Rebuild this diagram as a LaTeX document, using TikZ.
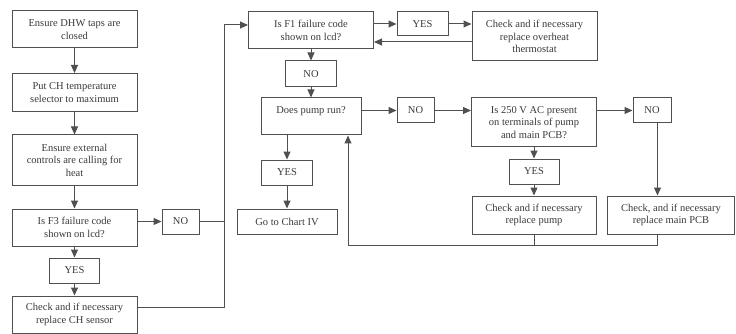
\documentclass[tikz,border=0pt]{standalone}
\usepackage{fontspec}
\setmainfont{Liberation Serif}
\usetikzlibrary{arrows.meta}
\definecolor{chartgray}{HTML}{505050}
\definecolor{charttext}{HTML}{3A3A3A}

\begin{document}
\begin{tikzpicture}[x=1pt, y=-1pt, line width=1pt,
    box/.style={draw=chartgray, fill=white, text=charttext, align=center, inner sep=1pt,
      font=\fontsize{10.5}{12.5}\selectfont},
    wire/.style={draw=chartgray},
    link/.style={draw=chartgray, -{Triangle[length=8pt, width=7pt]}}]
  \useasboundingbox (0,0) rectangle (736,334);
  % left column
  \node[box, minimum width=125pt, minimum height=37pt] (dhw) at (74.5,29.5) {Ensure DHW taps are\\closed};
  \node[box, minimum width=125pt, minimum height=38pt] (put) at (74.5,92.5) {Put CH temperature\\selector to maximum};
  \node[box, minimum width=125pt, minimum height=50pt] (ext) at (74.5,160) {Ensure external\\controls are calling for\\heat};
  \node[box, minimum width=125pt, minimum height=37pt] (f3) at (74.5,227.5) {Is F3 failure code\\shown on lcd?};
  \node[box, minimum width=50pt, minimum height=25pt] (yes3) at (74.5,270.5) {YES};
  \node[box, minimum width=125pt, minimum height=37pt] (chs) at (74.5,314.5) {Check and if necessary\\replace CH sensor};
  \node[box, minimum width=37pt, minimum height=25pt] (no3) at (180.5,221.5) {NO};
  % F1 row
  \node[box, minimum width=125pt, minimum height=37pt] (f1) at (311,30.5) {Is F1 failure code\\shown on lcd?};
  \node[box, minimum width=51pt, minimum height=24pt] (yes1) at (422.5,24) {YES};
  \node[box, minimum width=125pt, minimum height=49pt] (ovh) at (534.5,36.5) {Check and if necessary\\replace overheat\\thermostat};
  \node[box, minimum width=51pt, minimum height=26pt] (no1) at (311,74) {NO};
  % pump row
  \node[box, minimum width=100pt, minimum height=37pt] (pump) at (311,116.5) {Does pump run?\\\mbox{}};
  \node[box, minimum width=37pt, minimum height=25pt] (nop) at (415.5,110.5) {NO};
  \node[box, minimum width=125pt, minimum height=49pt] (v250) at (534,122.5) {Is 250 V AC present\\on terminals of pump\\and main PCB?};
  \node[box, minimum width=38pt, minimum height=25pt] (nov) at (652,110.5) {NO};
  \node[box, minimum width=51pt, minimum height=25pt] (yesp) at (287,172.5) {YES};
  \node[box, minimum width=100pt, minimum height=25pt] (chart) at (287,221.5) {Go to Chart IV};
  \node[box, minimum width=50pt, minimum height=25pt] (yesv) at (534,171.5) {YES};
  \node[box, minimum width=124pt, minimum height=38pt] (rpump) at (534,215) {Check and if necessary\\replace pump};
  \node[box, minimum width=127pt, minimum height=38pt] (pcb) at (671,215) {Check, and if necessary\\replace main PCB};
  \coordinate (ltop) at (224,25);
  \coordinate (loopl) at (348,245);

  \draw[link] (dhw) -- (put);
  \draw[link] (put) -- (ext);
  \draw[link] (ext) -- (f3);
  \draw[link] (f3) -- (yes3);
  \draw[link] (yes3) -- (chs);
  \draw[link] (f3.east |- no3) -- (no3);
  \draw[wire] (no3.east) -- (no3.east -| ltop);
  \draw[link] ([yshift=7.5pt]chs.east) -| (ltop) -- (f1.west |- ltop);
  \draw[link] (f1.east |- yes1) -- (yes1);
  \draw[link] (yes1) -- (ovh.west |- yes1);
  \draw[link] ([yshift=-5.5pt]ovh.west) -- ([yshift=-5.5pt]ovh.west -| f1.east);
  \draw[link] (f1) -- (no1);
  \draw[link] (no1) -- (pump);
  \draw[link] (pump.south -| yesp) -- (yesp);
  \draw[link] (yesp) -- (chart);
  \draw[link] (pump.east |- nop) -- (nop);
  \draw[link] (nop) -- (v250.west |- nop);
  \draw[link] (v250.east |- nov) -- (nov);
  \draw[link] ([xshift=5.5pt]nov.south) -- ([xshift=5.5pt]nov.south |- pcb.north);
  \draw[link] (v250) -- (yesv);
  \draw[link] (yesv) -- (rpump);
  % return loop to pump
  \draw[wire] ([xshift=5.5pt]nov.south |- pcb.south) |- (rpump.south |- loopl);
  \draw[link] (rpump.south) |- (loopl) -- (loopl |- pump.south);
\end{tikzpicture}
\end{document}
